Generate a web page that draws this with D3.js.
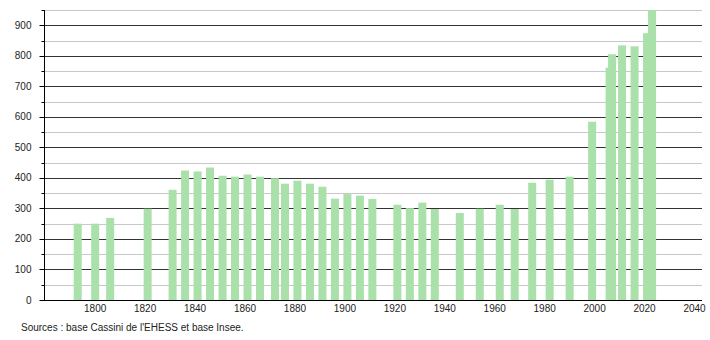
<!DOCTYPE html>
<html>
<head>
<meta charset="utf-8">
<script src="https://cdn.jsdelivr.net/npm/d3@7"></script>
<style>
  body { margin: 0; background: #fff; }
  svg { display: block; font-family: "Liberation Sans", Arial, sans-serif; }
</style>
</head>
<body>
<div id="chart"></div>
<script>
// census years and population
var years = [1793, 1800, 1806, 1821, 1831, 1836, 1841, 1846, 1851, 1856,
  1861, 1866, 1872, 1876, 1881, 1886, 1891, 1896, 1901, 1906,
  1911, 1921, 1926, 1931, 1936, 1946, 1954, 1962, 1968, 1975,
  1982, 1990, 1999, 2006, 2007, 2011, 2016, 2021, 2023];
var population = [250, 250, 269, 299, 361, 424, 421, 434, 407, 404,
  411, 404, 399, 381, 391, 381, 371, 332, 347, 342,
  331, 312, 301, 319, 298, 285, 299, 312, 298, 384,
  394, 404, 584, 761, 805, 834, 831, 874, 950];
var yTicks = [0, 100, 200, 300, 400, 500, 600, 700, 800, 900];
var xTicks = [1800, 1820, 1840, 1860, 1880, 1900, 1920, 1940, 1960, 1980, 2000, 2020, 2040];
var sourceText = "Sources : base Cassini de l'EHESS et base Insee.";

(function() {
  var width = 710, height = 340;
  var plotLeft = 44, plotRight = 702, plotTop = 10, plotBottom = 300;
  var barWidth = 8;

  var svg = d3.select('#chart').append('svg')
    .attr('width', width)
    .attr('height', height);

  var x = d3.scaleLinear().domain([1779.5, 2043]).range([plotLeft, plotRight]);
  var y = d3.scaleLinear().domain([0, 950]).range([plotBottom, plotTop]);

  var data = years.map(function(yr, i) { return { year: yr, value: population[i] }; });
  var snap = function(d) { return Math.round(y(d)) + 0.5; };

  // grid: light lines every 50, dark every 100
  var minor = d3.range(50, 1000, 100);
  svg.append('g').selectAll('line')
    .data(minor)
    .enter().append('line')
      .attr('x1', plotLeft).attr('x2', plotRight)
      .attr('y1', snap).attr('y2', snap)
      .attr('stroke', '#c8c8c8');

  svg.append('g').selectAll('line')
    .data(yTicks.slice(1))
    .enter().append('line')
      .attr('x1', plotLeft).attr('x2', plotRight)
      .attr('y1', snap).attr('y2', snap)
      .attr('stroke', '#333');

  // bars
  svg.append('g').selectAll('rect')
    .data(data)
    .enter().append('rect')
      .attr('x', function(d) { return x(d.year) - barWidth / 2; })
      .attr('y', function(d) { return y(d.value); })
      .attr('width', barWidth)
      .attr('height', function(d) { return plotBottom - y(d.value); })
      .attr('fill', '#aae0a9');

  // y axis
  var yAxis = svg.append('g')
    .attr('transform', 'translate(' + (plotLeft + 0.5) + ',0)');
  yAxis.append('line')
    .attr('y1', plotTop).attr('y2', plotBottom + 1)
    .attr('stroke', '#000');
  yAxis.selectAll('line.major')
    .data(yTicks)
    .enter().append('line')
      .attr('class', 'major')
      .attr('x1', -5).attr('x2', 0)
      .attr('y1', snap).attr('y2', snap)
      .attr('stroke', '#000');
  yAxis.selectAll('line.minor')
    .data(minor)
    .enter().append('line')
      .attr('class', 'minor')
      .attr('x1', -3).attr('x2', 0)
      .attr('y1', snap).attr('y2', snap)
      .attr('stroke', '#000');
  yAxis.selectAll('text')
    .data(yTicks)
    .enter().append('text')
      .attr('x', -13)
      .attr('y', function(d) { return y(d); })
      .attr('dy', '0.35em')
      .attr('text-anchor', 'end')
      .attr('font-size', 10)
      .attr('fill', '#222')
      .text(function(d) { return d; });

  // x axis
  svg.append('line')
    .attr('x1', plotLeft).attr('x2', plotRight)
    .attr('y1', plotBottom + 0.5).attr('y2', plotBottom + 0.5)
    .attr('stroke', '#000');
  svg.append('g').selectAll('text')
    .data(xTicks)
    .enter().append('text')
      .attr('x', function(d) { return x(d); })
      .attr('y', plotBottom + 12)
      .attr('text-anchor', 'middle')
      .attr('font-size', 10)
      .attr('fill', '#222')
      .text(function(d) { return d; });

  svg.append('text')
    .attr('x', 21)
    .attr('y', 331)
    .attr('font-size', 10)
    .attr('fill', '#222')
    .text(sourceText);
}());
</script>
</body>
</html>
